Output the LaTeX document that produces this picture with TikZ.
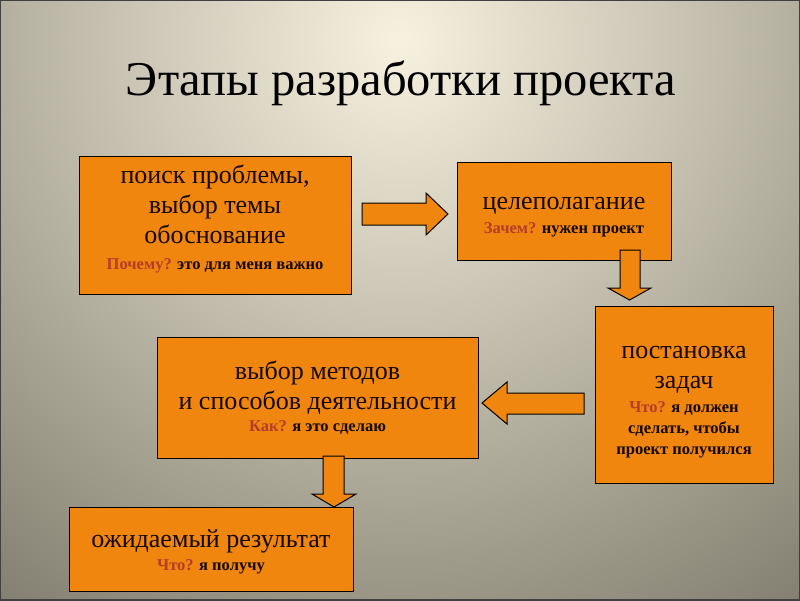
\documentclass[tikz,border=0pt]{standalone}
\usepackage{fontspec}
\setmainfont{Liberation Serif}
\definecolor{boxorange}{HTML}{F0860E}
\definecolor{qred}{HTML}{B43C28}
\definecolor{inkdark}{HTML}{140800}
\definecolor{bgin}{HTML}{F7F1DF}
\definecolor{bgout}{HTML}{7E7B6C}
\tikzset{
  stagebox/.style={draw=black, line width=1pt, fill=boxorange, inner sep=0pt},
  boxtext/.style={inner sep=0pt, align=center, text=inkdark, font=\fontsize{26}{30}\selectfont},
  blockarrow/.style={draw=black, line width=1pt, fill=boxorange, line join=miter},
}
\newcommand{\qword}[1]{\textcolor{qred}{#1}}
\newcommand{\smf}{\fontsize{16.5}{21}\selectfont\bfseries}
\begin{document}
\begin{tikzpicture}[x=1pt,y=-1pt]
\useasboundingbox (0,0) rectangle (800,600);
\begin{scope}
\clip (0,0) rectangle (800,600);
\shade[inner color=bgin, outer color=bgout] (400,40) circle[radius=720];
\end{scope}
\draw[black!75, line width=1.5pt] (0,0) rectangle (800,600);

\node[font=\fontsize{48.5}{56}\selectfont, text=black, anchor=base] (title) at (401,95) {Этапы разработки проекта};

\node[stagebox, minimum width=272, minimum height=138] (b1) at (215,225) {};
\node[stagebox, minimum width=214, minimum height=98] (b2) at (564,211) {};
\node[stagebox, minimum width=178, minimum height=177] (b3) at (684,394.5) {};
\node[stagebox, minimum width=321, minimum height=121] (b4) at (317.5,397.5) {};
\node[stagebox, minimum width=284, minimum height=84] (b5) at (211,549) {};

\node[boxtext] (t1) at ([yshift=6pt]b1.center)
 {поиск проблемы,\\выбор темы\\обоснование\\[-4pt]\smf\qword{Почему?} это для меня важно};
\node[boxtext] (t2) at ([yshift=-6pt]b2.center)
 {целеполагание\\[-6pt]\smf\qword{Зачем?} нужен проект};
\node[boxtext] (t3) at ([yshift=-8pt]b3.center)
 {постановка\\задач\\[-6pt]\smf\qword{Что?} я должен\\[-9pt]\smf сделать, чтобы\\[-9pt]\smf проект получился};
\node[boxtext] (t4) at (b4.center)
 {выбор методов\\и способов деятельности\\[-8pt]\smf\qword{Как?} я это сделаю};
\node[boxtext] (t5) at ([yshift=-3pt]b5.center)
 {ожидаемый результат\\[-7pt]\smf\qword{Что?} я получу};

% block arrows
\draw[blockarrow] (362,203) -- (426,203) -- (426,193) -- (448,214) -- (426,235) -- (426,225) -- (362,225) -- cycle;
\draw[blockarrow] (620,250) -- (640,250) -- (640,288) -- (651,288) -- (629.5,300) -- (608,288) -- (620,288) -- cycle;
\draw[blockarrow] (584,393) -- (507,393) -- (507,382) -- (482,403) -- (507,424) -- (507,414) -- (584,414) -- cycle;
\draw[blockarrow] (323,456) -- (344,456) -- (344,494) -- (356,494) -- (334,507) -- (312,494) -- (323,494) -- cycle;
\end{tikzpicture}
\end{document}
